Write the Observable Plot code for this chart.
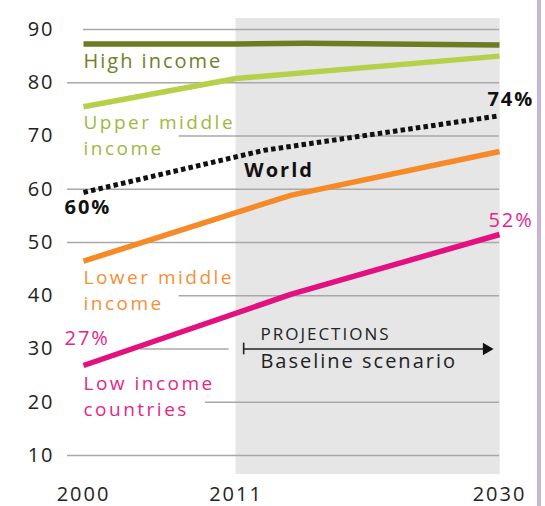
<!DOCTYPE html>
<html><head><meta charset="utf-8">
<script src="https://cdn.jsdelivr.net/npm/d3@7"></script>
<script src="https://cdn.jsdelivr.net/npm/@observablehq/plot@0.6"></script>
<style>
body{margin:0;background:#fff;}
#wrap{position:relative;width:545px;height:506px;}
#bar{position:absolute;left:537px;top:0;width:4px;height:506px;background:#c6b4d9;}
</style></head><body>
<div id="wrap"><div id="bar"></div></div>
<script>
// ---- data ----
const yTicks = [10, 20, 30, 40, 50, 60, 70, 80, 90];
const xTicks = [2000, 2011, 2030];
const highIncome  = [{year:2000,value:87.3},{year:2011,value:87.3},{year:2016,value:87.4},{year:2030,value:87.1}];
const upperMiddle = [{year:2000,value:75.5},{year:2011,value:80.8},{year:2030,value:85.0}];
const world       = [{year:2000,value:59.4},{year:2013,value:67.3},{year:2030,value:73.8}];
const lowerMiddle = [{year:2000,value:46.5},{year:2011,value:55.6},{year:2015,value:58.9},{year:2030,value:67.1}];
const lowIncome   = [{year:2000,value:26.9},{year:2015,value:40.3},{year:2030,value:51.5}];
const projStart = 2011, projEnd = 2030;
const seriesLabels = ["High income","Upper middle\nincome","Lower middle\nincome","Low income\ncountries"];
const worldLabels = ["World","60%","74%"];
const lowLabels = ["27%","52%"];
const projTexts = ["PROJECTIONS","Baseline scenario"];

// ---- layout (annotation placement in data units) ----
const C = {high:"#6e7b22", highT:"#72802a", upper:"#b6d04a", upperT:"#9fb83e", world:"#111",
           lower:"#f68a26", lowerT:"#f39036", low:"#e2117f", lowT:"#e3268a"};
const oneLine = [
  {t:seriesLabels[0], x:2000, y:82.86, c:C.highT}
];
const twoLine = [
  {t:seriesLabels[1], x:2000, y:66.43, c:C.upperT},
  {t:seriesLabels[2], x:2000, y:37.32, c:C.lowerT},
  {t:seriesLabels[3], x:2000, y:17.33, c:C.lowT}
];
const boldLab = [
  {t:worldLabels[0], x:2011.6,  y:62.39},
  {t:worldLabels[1], x:1998.63, y:55.26},
  {t:worldLabels[2], x:2029.13, y:75.54}
];
const pctLab = [
  {t:lowLabels[0], x:1998.63, y:30.66},
  {t:lowLabels[1], x:2029.2,  y:53.0}
];
const grid = yTicks.map(v => ({
  v,
  x1: v===90 ? 2000 : (v===70||v===40) ? 2006.9 : v===30 ? 2004.1 : v===20 ? 2008.8 : 1998.85,
  x2: v===30 ? 2010.5 : 2030
}));

const plot = Plot.plot({
  width: 545, height: 506,
  marginLeft: 83, marginRight: 46, marginTop: 29, marginBottom: 51,
  x: {domain: [2000, 2030]},
  y: {domain: [10, 90]},
  style: {fontFamily: "'Open Sans', sans-serif", fontSize: "20px", letterSpacing: "2px", background: "transparent"},
  marks: [
    Plot.rect([{x1: projStart, x2: projEnd + 0.05, y1: 6.43, y2: 92.07}], {x1:"x1", x2:"x2", y1:"y1", y2:"y2", fill:"#e6e6e6"}),
    Plot.ruleY(grid, {y:"v", x1:"x1", x2:"x2", stroke:"#a8a8a8", strokeWidth:1.3}),
    Plot.axisY(yTicks, {tickSize:0, tickPadding:29, fontSize:20, fill:"#222", label:null}),
    Plot.axisX(xTicks, {tickSize:0, tickPadding:31, fontSize:20, fill:"#222", label:null, tickFormat: d => String(d)}),
    Plot.line(upperMiddle, {x:"year", y:"value", stroke:C.upper, strokeWidth:5.5, strokeLinecap:"butt"}),
    Plot.line(highIncome,  {x:"year", y:"value", stroke:C.high,  strokeWidth:5.5, strokeLinecap:"butt"}),
    Plot.line(lowerMiddle, {x:"year", y:"value", stroke:C.lower, strokeWidth:5.5, strokeLinecap:"butt"}),
    Plot.line(lowIncome,   {x:"year", y:"value", stroke:C.low,   strokeWidth:5.5, strokeLinecap:"butt"}),
    Plot.line(world,       {x:"year", y:"value", stroke:C.world, strokeWidth:5, strokeDasharray:"4.5,3.2", strokeLinecap:"butt", strokeLinejoin:"miter"}),
    Plot.text(oneLine, {x:"x", y:"y", text:"t", fill:"c", textAnchor:"start", lineAnchor:"bottom", fontSize:20}),
    Plot.text(twoLine, {x:"x", y:"y", text:"t", fill:"c", textAnchor:"start", lineAnchor:"bottom", lineHeight:1.37, fontSize:19,
      stroke:null, fontVariant:"normal"}),
    Plot.text(boldLab, {x:"x", y:"y", text:"t", fill:C.world, fontWeight:"bold", textAnchor:"start", lineAnchor:"bottom", fontSize:20}),
    Plot.text(pctLab, {x:"x", y:"y", text:"t", fill:C.lowT, textAnchor:"start", lineAnchor:"bottom", fontSize:20}),
    // projections annotation
    Plot.ruleY([30], {x1: 2011.55, x2: 2029.0, stroke:"#222", strokeWidth:1.6}),
    Plot.ruleX([2011.55], {y1: 28.9, y2: 31.1, stroke:"#222", strokeWidth:1.6}),
    Plot.dot([{x: 2029.06, y: 30}], {x:"x", y:"y", symbol:"triangle", r:4.6, rotate:90, fill:"#111", stroke:null}),
    Plot.text([projTexts[0]], {x: 2012.76, y: 31.78, text: d => d, textAnchor:"start", lineAnchor:"bottom", fontSize:17, fill:"#222"}),
    Plot.text([projTexts[1]], {x: 2012.76, y: 26.34, text: d => d, textAnchor:"start", lineAnchor:"bottom", fontSize:20, fill:"#222"})
  ]
});
// slightly wider tracking on the 19px two-line labels so their widths match
const groups = plot.querySelectorAll('g[aria-label="text"]');
if (groups[1]) groups[1].setAttribute("letter-spacing", "2.5px");
groups[1] && (groups[1].style.letterSpacing = "2.5px");
document.getElementById("wrap").prepend(plot);
</script>
</body></html>
